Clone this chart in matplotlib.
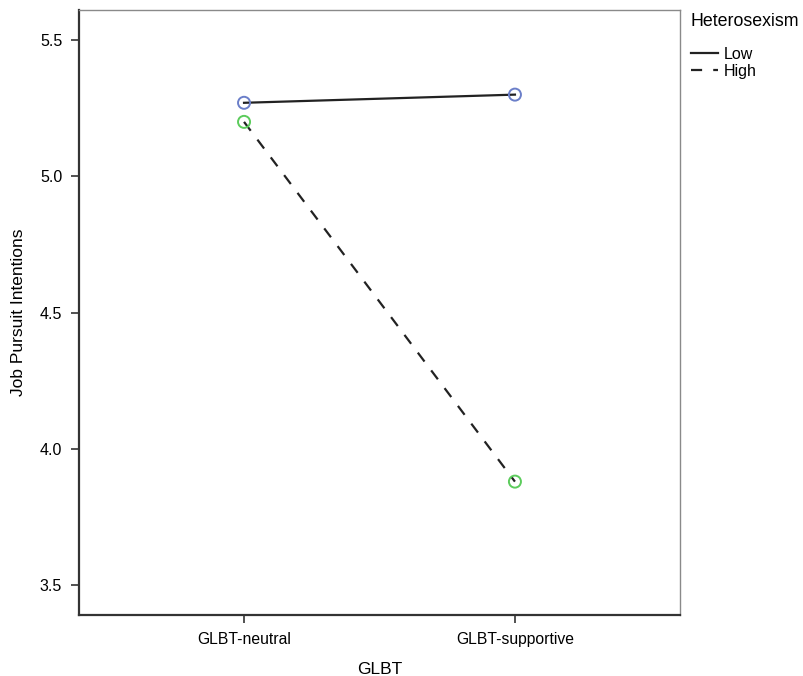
import numpy as np
import matplotlib.pyplot as plt
from matplotlib.lines import Line2D

plt.rcParams['font.family'] = ['Liberation Sans', 'DejaVu Sans']

# ─── Data ─────────────────────────────────────────────────────────────────────
CATEGORIES = ["GLBT-neutral", "GLBT-supportive"]
LOW_VALUES = [5.27, 5.30]
HIGH_VALUES = [5.20, 3.88]
SERIES_LABELS = ["Low", "High"]
YTICKS = [3.5, 4.0, 4.5, 5.0, 5.5]

LOW_MARKER = "#6b7fc9"
HIGH_MARKER = "#5ccc5c"
LINE_COLOR = "#222222"

fig = plt.figure(figsize=(8.04, 6.76), dpi=100)
ax = fig.add_axes([0.098, 0.090, 0.748, 0.895])

x = np.arange(len(CATEGORIES))
ax.plot(x, LOW_VALUES, color=LINE_COLOR, lw=1.6, ls="-", zorder=2)
ax.plot(x, HIGH_VALUES, color=LINE_COLOR, lw=1.6, ls=(0, (5, 5)), zorder=2)
ax.scatter(x, LOW_VALUES, s=75, facecolors="none", edgecolors=LOW_MARKER, linewidths=1.4, zorder=3)
ax.scatter(x, HIGH_VALUES, s=75, facecolors="none", edgecolors=HIGH_MARKER, linewidths=1.4, zorder=3)

ax.set_xlim(-0.61, 1.61)
ax.set_ylim(3.39, 5.61)
ax.set_xticks(x)
ax.set_xticklabels(CATEGORIES, fontsize=11.3)
ax.set_yticks(YTICKS)
ax.set_yticklabels([f"{v:.1f}" for v in YTICKS], fontsize=11.5)
ax.tick_params(axis="both", direction="out", length=6, width=1.2, color="#333333", pad=6)

ax.set_ylabel("Job Pursuit Intentions", fontsize=12.5, labelpad=10)
ax.set_xlabel("GLBT", fontsize=12.5, labelpad=11)

for side in ["left", "bottom"]:
    ax.spines[side].set_linewidth(1.6)
    ax.spines[side].set_color("#333333")
for side in ["top", "right"]:
    ax.spines[side].set_linewidth(1.0)
    ax.spines[side].set_color("#8a8a8a")

handles = [Line2D([0], [0], color=LINE_COLOR, lw=1.6, ls="-"),
           Line2D([0], [0], color=LINE_COLOR, lw=1.6, ls=(0, (5, 5)))]
leg = fig.legend(handles, SERIES_LABELS, title="Heterosexism", loc="upper left",
                 bbox_to_anchor=(0.847, 0.995), frameon=False, fontsize=11.5,
                 title_fontsize=12.8, handlelength=1.7, handletextpad=0.4,
                 labelspacing=0.12, borderaxespad=0.2)
leg._legend_box.align = "left"
leg._legend_box.sep = 12

fig.savefig("out.png", dpi=100)
